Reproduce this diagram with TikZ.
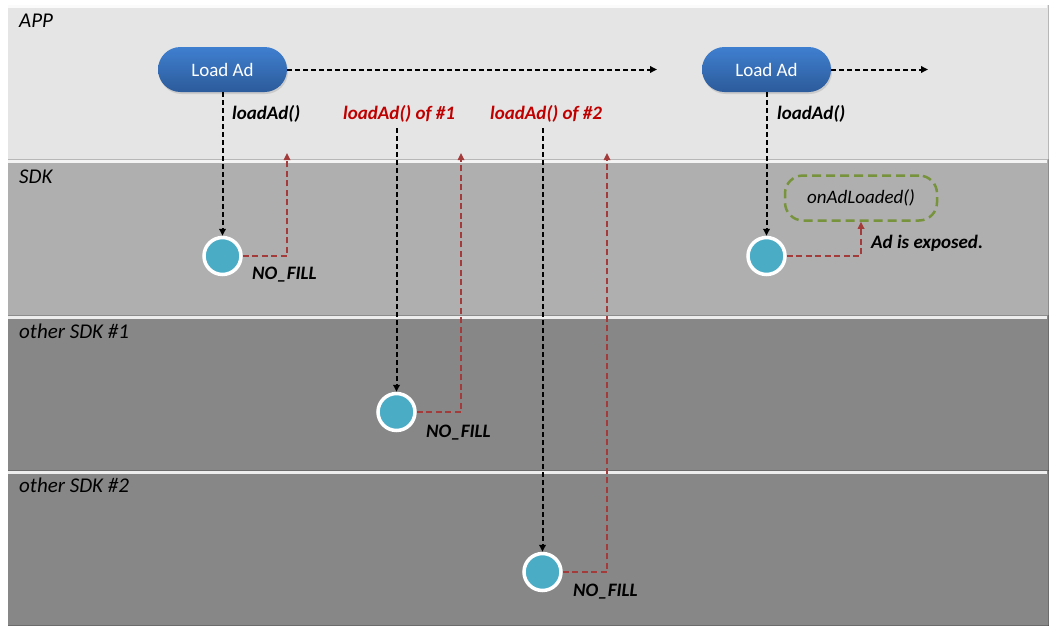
\documentclass[tikz,border=0pt]{standalone}
\usepackage{fontspec}
\setmainfont{Carlito}
\usetikzlibrary{arrows.meta,shadows}
\definecolor{laneA}{HTML}{E5E5E5}
\definecolor{laneB}{HTML}{AFAFAF}
\definecolor{laneC}{HTML}{878787}
\definecolor{pillTop}{HTML}{3F7FD0}
\definecolor{pillBot}{HTML}{2C5B9A}
\definecolor{stateFill}{HTML}{4BACC6}
\definecolor{redline}{HTML}{A33B3B}
\definecolor{redtext}{HTML}{C00000}
\definecolor{greenline}{HTML}{77933C}
\tikzset{
  lane/.style={draw=none, inner sep=0pt, anchor=north west, minimum width=1041pt},
  lanelabel/.style={font=\fontsize{21}{24}\selectfont\itshape, anchor=base west, inner sep=0pt},
  call/.style={font=\fontsize{19}{22}\selectfont\bfseries\itshape, anchor=base west, inner sep=0pt},
  pill/.style={rounded corners=22.5pt, minimum width=129pt, minimum height=45pt,
    top color=pillTop, bottom color=pillBot, text=white, font=\fontsize{19}{22}\selectfont,
    drop shadow={opacity=0.25, shadow xshift=1pt, shadow yshift=-2pt}},
  state/.style={circle, fill=stateFill, draw=white, line width=3.5pt, minimum size=37pt, inner sep=0pt},
  callarrow/.style={draw=black, line width=2pt, dash pattern=on 5pt off 3pt, -{Triangle[length=7pt,width=6.5pt]}},
  backarrow/.style={draw=redline, line width=1.6pt, dash pattern=on 6pt off 3.5pt, -{Triangle[length=7pt,width=6.5pt]}},
  hilite/.style={draw=white, line width=2.5pt, opacity=0.85},
  shade/.style={draw=black, line width=1.5pt, opacity=0.2},
}
\begin{document}
\begin{tikzpicture}[x=1pt,y=-1pt]
\useasboundingbox (0,0) rectangle (1055,635);
\fill[white] (0,0) rectangle (1055,635);
% lanes
\node[lane, fill=laneA, minimum height=155pt] (app) at (8,5) {};
\node[lane, fill=laneB, minimum height=156pt] (sdk) at (8,160) {};
\node[lane, fill=laneC, minimum height=155pt] (oth1) at (8,316) {};
\node[lane, fill=laneC, minimum height=155pt] (oth2) at (8,471) {};
\foreach \l in {app,sdk,oth1,oth2}{
  \draw[shade] ([xshift=-0.75pt]\l.north east) -- ([xshift=-0.75pt]\l.south east);
  \draw[shade] ([yshift=0.75pt]\l.south west) -- ([yshift=0.75pt]\l.south east);
  \draw[hilite] ([yshift=-1.25pt]\l.north west) -- ([xshift=-2pt,yshift=-1.25pt]\l.north east);
}
\node[lanelabel] (lapp) at (19,27) {APP};
\node[lanelabel] (lsdk) at (19,183) {SDK};
\node[lanelabel] (loth1) at (19,338) {other SDK \#1};
\node[lanelabel] (loth2) at (19,492) {other SDK \#2};
% pills
\node[pill] (load1) at (222.5,69.5) {Load Ad};
\node[pill] (load2) at (766.5,69.5) {Load Ad};
\coordinate (next1) at (657,69.5);
\coordinate (next2) at (928,69.5);
\draw[callarrow] (load1.east) -- (next1);
\draw[callarrow] (load2.east) -- (next2);
% states
\node[state] (s1) at (222.5,256) {};
\node[state] (s2) at (396.5,412) {};
\node[state] (s3) at (542.5,572) {};
\node[state] (s4) at (766.5,256) {};
\node[draw=greenline, line width=2.5pt, dash pattern=on 9pt off 5pt, rounded corners=18pt,
  minimum width=152pt, minimum height=45pt, font=\fontsize{19}{22}\selectfont\itshape] (loaded) at (861,198) {onAdLoaded()};
% calls
\coordinate (c1top) at (396.5,128);
\coordinate (c2top) at (542.5,128);
\draw[callarrow] (load1.south) -- (s1.north);
\draw[callarrow] (c1top) -- (s2.north);
\draw[callarrow] (c2top) -- (s3.north);
\draw[callarrow] (load2.south) -- (s4.north);
% returns
\coordinate (r1) at (287,153);
\coordinate (r2) at (461,153);
\coordinate (r3) at (607,153);
\draw[backarrow] (s1.east) -| (r1);
\draw[backarrow] (s2.east) -| (r2);
\draw[backarrow] (s3.east) -| (r3);
\draw[backarrow] (s4.east) -| (loaded.south);
% labels
\node[call] (t1) at (232,119) {loadAd()};
\node[call, text=redtext] (t2) at (343,119) {loadAd() of \#1};
\node[call, text=redtext] (t3) at (490,119) {loadAd() of \#2};
\node[call] (t4) at (777,119) {loadAd()};
\node[call] (nf1) at (252,279) {NO\_FILL};
\node[call] (nf2) at (426,437) {NO\_FILL};
\node[call] (nf3) at (573,596) {NO\_FILL};
\node[call] (exposed) at (871,248) {Ad is exposed.};
\end{tikzpicture}
\end{document}
